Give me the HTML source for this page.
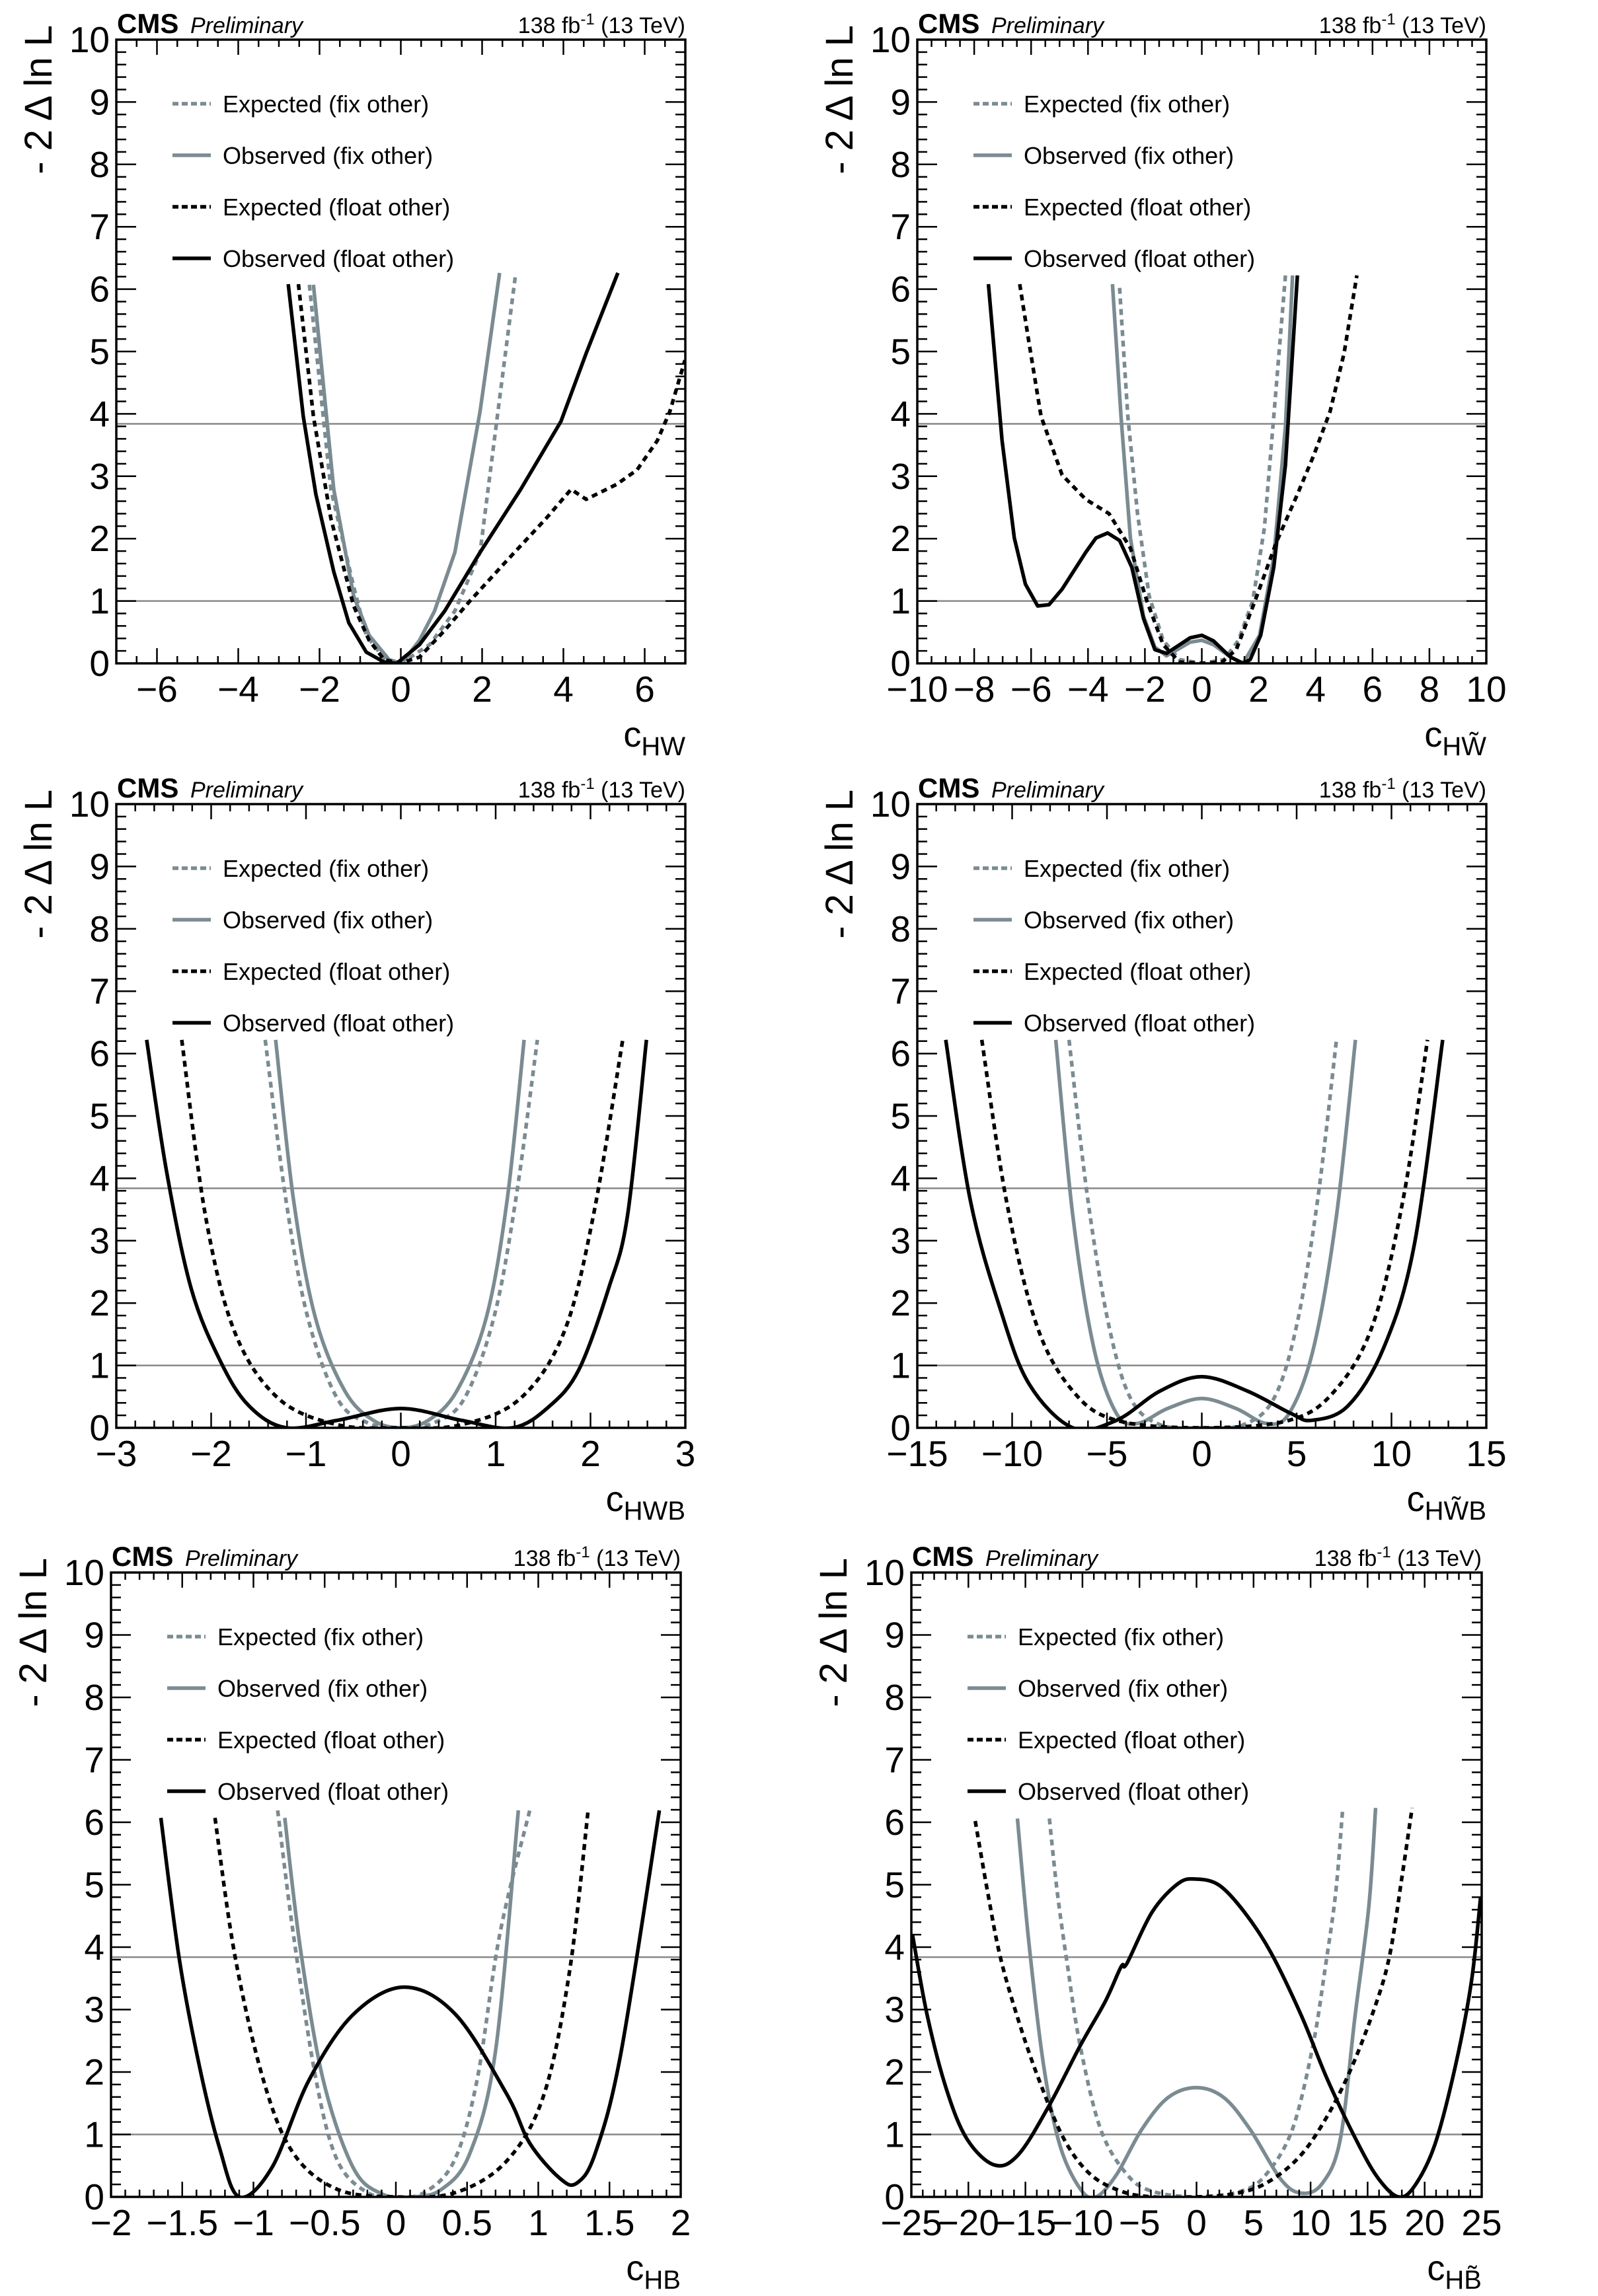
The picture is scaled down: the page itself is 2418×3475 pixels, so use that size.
<!DOCTYPE html>
<html><head><meta charset="utf-8">
<style>
html,body{margin:0;padding:0;background:#fff;}
svg{display:block;font-family:"Liberation Sans",Arial,sans-serif;}
</style></head>
<body>
<svg id="fig" width="2418" height="3475" viewBox="0 0 2418 3475" xmlns="http://www.w3.org/2000/svg"></svg>
<script>
// ---- data: x values and -2ΔlnL values per panel/series ----
// Panel 1: cHW
const hwExpFixX=[-2.25,-1.72,-1.16,-0.85,-0.41,0,0.71,1.33,1.95,2.39,2.82];
const hwExpFixY=[6.07,2.79,1.23,0.45,0.08,0,0.3,0.84,1.78,4.04,6.22];
const hwObsFixX=[-2.15,-1.65,-1.16,-0.78,-0.29,0.02,0.46,0.83,1.33,1.95,2.43];
const hwObsFixY=[6.07,2.79,1.08,0.45,0.06,0,0.37,0.84,1.78,4.04,6.26];
const hwExpFloatX=[-2.52,-2.15,-1.72,-1.16,-0.78,-0.41,-0.04,0.46,1.08,1.70,2.57,3.57,4.19,4.56,5.31,5.81,6.31,6.62,6.99];
const hwExpFloatY=[6.08,3.96,2.32,0.92,0.37,0.06,0,0.1,0.53,1.0,1.62,2.32,2.79,2.63,2.87,3.1,3.57,4.04,4.86];
const hwObsFloatX=[-2.77,-2.40,-2.09,-1.65,-1.28,-0.85,-0.41,-0.10,0.46,1.08,1.95,2.95,3.94,4.56,4.94,5.34];
const hwObsFloatY=[6.08,3.96,2.71,1.47,0.65,0.18,0.02,0,0.3,0.84,1.78,2.79,3.88,4.97,5.6,6.26];
// Panel 2: cHWtilde
const hwtExpFixX=[-2.89,-2.60,-2.26,-1.85,-1.36,-0.78,0,0.79,1.29,1.79,2.20,2.53,2.94];
const hwtExpFixY=[6.02,3.96,2.40,1.08,0.37,0.06,0,0.06,0.37,1.0,2.17,3.96,6.22];
const hwtObsFixX=[-3.14,-2.84,-2.51,-2.05,-1.65,-1.24,-0.41,0,0.41,1.01,1.45,2.03,2.53,2.94,3.19];
const hwtObsFixY=[6.08,3.96,2.01,0.76,0.26,0.12,0.34,0.37,0.30,0.1,0,0.45,1.7,3.8,6.22];
const hwtExpFloatX=[-6.40,-6.07,-5.65,-4.91,-4.08,-3.26,-2.51,-1.93,-1.36,-0.78,0,0.71,1.21,1.87,2.61,3.36,3.93,4.51,5.0,5.45];
const hwtExpFloatY=[6.08,5.13,3.96,3.02,2.63,2.40,1.85,1.0,0.30,0.02,0,0.02,0.22,1.0,1.93,2.71,3.33,4.04,4.97,6.22];
const hwtObsFloatX=[-7.5,-7.02,-6.59,-6.2,-5.77,-5.37,-4.91,-4.08,-3.72,-3.31,-2.89,-2.46,-2.05,-1.65,-1.24,-0.41,0,0.41,1.01,1.45,1.70,2.07,2.53,2.94,3.36];
const hwtObsFloatY=[6.08,3.57,2.01,1.27,0.92,0.94,1.19,1.78,2.01,2.09,1.97,1.54,0.72,0.22,0.16,0.41,0.45,0.36,0.10,0,0.06,0.45,1.54,3.18,6.22];
// Panel 3: cHWB
const hwbExpFixX=[-1.43,-1.21,-0.98,-0.67,-0.35,0,0.35,0.67,0.98,1.21,1.44];
const hwbExpFixY=[6.22,3.64,1.76,0.47,0.08,0,0.08,0.47,1.76,3.64,6.22];
const hwbObsFixX=[-1.32,-1.13,-0.90,-0.59,-0.29,0,0.29,0.59,0.90,1.12,1.30];
const hwbObsFixY=[6.22,3.64,1.76,0.59,0.12,0,0.12,0.59,1.76,3.64,6.22];
const hwbExpFloatX=[-2.31,-2.06,-1.75,-1.29,-0.67,0,0.64,1.26,1.72,2.03,2.34];
const hwbExpFloatY=[6.22,3.40,1.53,0.47,0.05,0,0.05,0.47,1.53,3.40,6.22];
const hwbObsFloatX=[-2.68,-2.47,-2.21,-1.90,-1.60,-1.21,-0.67,0,0.64,1.18,1.57,1.88,2.19,2.39,2.59];
const hwbObsFloatY=[6.22,4.11,2.23,1.06,0.35,0,0.12,0.31,0.12,0,0.35,0.94,2.23,3.40,6.22];
// Panel 4: cHWBtilde
const hwbtExpFixX=[-7.0,-6.0,-4.9,-3.75,-2.2,0,2.2,3.8,5.0,6.1,7.1];
const hwbtExpFixY=[6.22,3.64,1.64,0.47,0.05,0,0.05,0.47,1.64,3.64,6.22];
const hwbtObsFixX=[-7.7,-6.8,-5.7,-4.5,-3.4,-1.8,0,1.8,3.4,4.6,5.9,7.1,8.1];
const hwbtObsFixY=[6.22,3.40,1.29,0.23,0.07,0.31,0.47,0.31,0.07,0.23,1.29,3.40,6.22];
const hwbtExpFloatX=[-11.6,-10.3,-8.7,-6.8,-4.5,0,4.6,7.0,9.0,10.6,11.9];
const hwbtExpFloatY=[6.22,3.64,1.64,0.59,0.12,0,0.12,0.59,1.64,3.64,6.22];
const hwbtObsFloatX=[-13.5,-12.2,-10.6,-9.1,-6.8,-4.5,-2.2,0,2.4,4.7,5.8,7.7,9.6,11.2,12.7];
const hwbtObsFloatY=[6.22,3.64,1.88,0.70,0,0.12,0.59,0.82,0.59,0.23,0.12,0.35,1.29,2.93,6.22];
// Panel 5: cHB
const hbExpFixX=[-0.83,-0.72,-0.56,-0.41,-0.2,0,0.2,0.41,0.57,0.73,0.94];
const hbExpFixY=[6.19,4.21,1.87,0.58,0.07,0,0.07,0.58,1.87,4.21,6.19];
const hbObsFixX=[-0.78,-0.67,-0.51,-0.30,-0.1,0.11,0.32,0.52,0.70,0.86];
const hbObsFixY=[6.07,3.97,1.87,0.47,0.05,0,0.12,0.70,2.34,6.19];
const hbExpFloatX=[-1.27,-1.13,-0.93,-0.72,-0.41,0,0.42,0.78,1.04,1.22,1.35];
const hbExpFloatY=[6.07,3.86,1.87,0.70,0.12,0,0.07,0.58,1.64,3.62,6.19];
const hbObsFloatX=[-1.65,-1.52,-1.38,-1.24,-1.10,-0.87,-0.61,-0.30,0.06,0.42,0.78,0.94,1.15,1.27,1.40,1.58,1.85];
const hbObsFloatY=[6.07,3.80,2.10,0.80,0,0.47,1.87,2.92,3.36,2.92,1.64,0.86,0.30,0.22,0.70,2.30,6.19];
// Panel 6: cHBtilde
const hbtExpFixX=[-12.9,-12.2,-11.3,-10.2,-8.4,-6.1,-3.9,0,3.9,6.1,8.4,10.2,11.3,12.2,12.8];
const hbtExpFixY=[6.06,4.87,3.69,2.42,1.08,0.36,0.09,0,0.09,0.36,1.08,2.42,3.69,4.87,6.18];
const hbtObsFixX=[-15.7,-14.7,-13.4,-12.0,-10.2,-8.8,-7.0,-4.8,-2.5,0,2.4,4.7,7.4,9.2,11.0,12.6,13.9,15.1,15.7];
const hbtObsFixY=[6.06,4.08,2.10,0.84,0.13,0,0.36,1.08,1.59,1.75,1.59,1.08,0.28,0.06,0.21,0.92,2.90,4.64,6.23];
const hbtExpFloatX=[-19.4,-18.3,-17.2,-15.6,-13.8,-11.6,-9.3,-6.6,-3.9,0,3.3,6.0,8.8,11.0,13.3,15.5,16.9,18.0,18.9];
const hbtExpFloatY=[6.02,4.87,3.84,2.82,1.87,0.92,0.36,0.09,0,0,0.05,0.21,0.60,1.15,1.95,2.97,3.84,5.11,6.23];
const hbtObsFloatX=[-24.9,-23.6,-21.9,-20.1,-17.7,-15.6,-12.9,-10.2,-8.0,-6.6,-6.1,-3.9,-1.6,0,2.0,4.2,6.5,9.2,11.5,14.2,16.0,17.7,19.1,20.9,22.7,24.1,24.9];
const hbtObsFloatY=[4.2,2.9,1.71,0.92,0.51,0.68,1.47,2.42,3.13,3.69,3.74,4.56,5.02,5.09,4.99,4.56,3.92,2.90,1.87,0.84,0.28,0,0.17,0.84,2.10,3.45,4.79];
// tick labels
const yTickLabels=["0","1","2","3","4","5","6","7","8","9","10"];
const hwTicks=[-6,-4,-2,0,2,4,6];
const hwtTicks=[-10,-8,-6,-4,-2,0,2,4,6,8,10];
const hwbTicks=[-3,-2,-1,0,1,2,3];
const hwbtTicks=[-15,-10,-5,0,5,10,15];
const hbTicks=[-2,-1.5,-1,-0.5,0,0.5,1,1.5,2];
const hbtTicks=[-25,-20,-15,-10,-5,0,5,10,15,20,25];
const refLevels=[1,3.84];
const legendLabels=["Expected (fix other)","Observed (fix other)","Expected (float other)","Observed (float other)"];

const NS="http://www.w3.org/2000/svg";
const svg=document.getElementById('fig');
const GRAY="#7b8b92";
function mk(tag,attrs,parent){const e=document.createElementNS(NS,tag);for(const k in attrs)e.setAttribute(k,attrs[k]);(parent||svg).appendChild(e);return e;}

const panels=[
 {id:'chw',L:176,R:1037,T:60,B:1004,xmin:-7,xmax:7,major:hwTicks,minor:0.5,lab:'HW',smooth:false,
  s:[[hwExpFixX,hwExpFixY],[hwObsFixX,hwObsFixY],[hwExpFloatX,hwExpFloatY],[hwObsFloatX,hwObsFloatY]]},
 {id:'chwt',L:1388,R:2249,T:60,B:1004,xmin:-10,xmax:10,major:hwtTicks,minor:0.5,lab:'HW\u0303',smooth:false,
  s:[[hwtExpFixX,hwtExpFixY],[hwtObsFixX,hwtObsFixY],[hwtExpFloatX,hwtExpFloatY],[hwtObsFloatX,hwtObsFloatY]]},
 {id:'chwb',L:176,R:1037,T:1217,B:2161,xmin:-3,xmax:3,major:hwbTicks,minor:0.2,lab:'HWB',smooth:true,
  s:[[hwbExpFixX,hwbExpFixY],[hwbObsFixX,hwbObsFixY],[hwbExpFloatX,hwbExpFloatY],[hwbObsFloatX,hwbObsFloatY]]},
 {id:'chwbt',L:1388,R:2249,T:1217,B:2161,xmin:-15,xmax:15,major:hwbtTicks,minor:1,lab:'HW\u0303B',smooth:true,
  s:[[hwbtExpFixX,hwbtExpFixY],[hwbtObsFixX,hwbtObsFixY],[hwbtExpFloatX,hwbtExpFloatY],[hwbtObsFloatX,hwbtObsFloatY]]},
 {id:'chb',L:168,R:1030,T:2380,B:3325,xmin:-2,xmax:2,major:hbTicks,minor:0.1,lab:'HB',smooth:true,
  s:[[hbExpFixX,hbExpFixY],[hbObsFixX,hbObsFixY],[hbExpFloatX,hbExpFloatY],[hbObsFloatX,hbObsFloatY]]},
 {id:'chbt',L:1379,R:2242,T:2380,B:3325,xmin:-25,xmax:25,major:hbtTicks,minor:1,lab:'HB\u0303',smooth:true,
  s:[[hbtExpFixX,hbtExpFixY],[hbtObsFixX,hbtObsFixY],[hbtExpFloatX,hbtExpFloatY],[hbtObsFloatX,hbtObsFloatY]]}
];
const styles=[
 {stroke:GRAY,dash:'9 7'},
 {stroke:GRAY,dash:''},
 {stroke:'#000',dash:'9 7'},
 {stroke:'#000',dash:''}
];
const seriesNames=['expected-fix-other','observed-fix-other','expected-float-other','observed-float-other'];

function fmt(v){return v<0?'\u2212'+Math.abs(v):String(v);}

panels.forEach((p,pi)=>{
  const g=mk('g',{});
  
  
  const W=p.R-p.L,H=p.B-p.T;
  const sx=v=>p.L+(v-p.xmin)/(p.xmax-p.xmin)*W;
  const sy=v=>p.B-v/10*H;
  const cid='clip'+pi;
  const cp=mk('clipPath',{id:cid},g);mk('rect',{x:p.L,y:p.T,width:W,height:H},cp);
  refLevels.forEach(r=>{const l=mk('line',{x1:p.L,x2:p.R,y1:sy(r),y2:sy(r),stroke:'#888',"stroke-width":2.5},g);
    
    });
  p.s.forEach((ser,si)=>{
    const X=ser[0],Y=ser[1];
    const pts=X.map((x,i)=>[sx(x),sy(Y[i])]);
    let d='M'+pts[0][0]+','+pts[0][1];
    if(!p.smooth){for(let i=1;i<pts.length;i++)d+=' L'+pts[i][0]+','+pts[i][1];}
    else{
      for(let i=0;i<pts.length-1;i++){
        const p0=pts[Math.max(0,i-1)],p1=pts[i],p2=pts[i+1],p3=pts[Math.min(pts.length-1,i+2)];
        const c1=[p1[0]+(p2[0]-p0[0])/6,p1[1]+(p2[1]-p0[1])/6];
        const c2=[p2[0]-(p3[0]-p1[0])/6,p2[1]-(p3[1]-p1[1])/6];
        d+=' C'+c1[0]+','+c1[1]+' '+c2[0]+','+c2[1]+' '+p2[0]+','+p2[1];
      }
    }
    const st=styles[si];
    const path=mk('path',{d:d,fill:'none',stroke:st.stroke,"stroke-width":5.5,"stroke-dasharray":st.dash,"clip-path":'url(#'+cid+')',"stroke-linejoin":'round'},g);
    
    
  });
  const fr=mk('rect',{x:p.L,y:p.T,width:W,height:H,fill:'none',stroke:'#000',"stroke-width":3.5},g);
  
  
  for(let k=0;k<=50;k++){
    const v=k*0.2,y=sy(v),maj=(k%5===0),len=maj?30:15;
    mk('line',{x1:p.L,x2:p.L+len,y1:y,y2:y,stroke:'#000',"stroke-width":2.5},g);
    mk('line',{x1:p.R,x2:p.R-len,y1:y,y2:y,stroke:'#000',"stroke-width":2.5},g);
  }
  yTickLabels.forEach((t,i)=>{const tx=mk('text',{x:p.L-10,y:sy(i)+19,"font-size":55,"text-anchor":'end'},g);tx.textContent=t;
    
    });
  const nmin=Math.round((p.xmax-p.xmin)/p.minor);
  const majStep=p.major[1]-p.major[0];
  for(let k=0;k<=nmin;k++){
    const v=p.xmin+k*p.minor,x=sx(v);
    const r=(v-p.major[0])/majStep;const maj=Math.abs(r-Math.round(r))<1e-6;
    const len=maj?23:11;
    mk('line',{x1:x,x2:x,y1:p.B,y2:p.B-len,stroke:'#000',"stroke-width":2.5},g);
    mk('line',{x1:x,x2:x,y1:p.T,y2:p.T+len,stroke:'#000',"stroke-width":2.5},g);
  }
  p.major.forEach(v=>{const tx=mk('text',{x:sx(v),y:p.B+58,"font-size":55,"text-anchor":'middle'},g);tx.textContent=fmt(v);
    
    });
  const xt=mk('text',{x:p.R,y:p.B+126,"text-anchor":'end',"font-size":54},g);
  
  
  xt.innerHTML='c<tspan font-size="40" dy="13">'+p.lab+'</tspan>';
  const yt=mk('text',{transform:'translate('+(p.L-98)+','+(p.T-22)+') rotate(-90)',"text-anchor":'end',"font-size":58},g);
  yt.textContent='- 2 \u0394 ln L';
  
  
  const cms=mk('text',{x:p.L+1,y:p.T-10,"font-size":42,"font-weight":'bold'},g);cms.textContent='CMS';
  
  
  const pre=mk('text',{x:p.L+112,y:p.T-10,"font-size":34,"font-style":'italic'},g);pre.textContent='Preliminary';
  
  
  const lumi=mk('text',{x:p.R,y:p.T-10,"font-size":34,"text-anchor":'end'},g);
  lumi.innerHTML='138 fb<tspan font-size="24" dy="-13">-1</tspan><tspan dy="13"> (13 TeV)</tspan>';
  
  
  legendLabels.forEach((t,i)=>{
    const y=p.T+97+i*78;
    const st=styles[i];
    const ln=mk('line',{x1:p.L+85,x2:p.L+143,y1:y,y2:y,stroke:st.stroke,"stroke-width":5.5,"stroke-dasharray":st.dash?'9 5':''},g);
    
    
    const tx=mk('text',{x:p.L+161,y:y+13,"font-size":36},g);tx.textContent=t;
    
    
  });
});
</script>
</body></html>
